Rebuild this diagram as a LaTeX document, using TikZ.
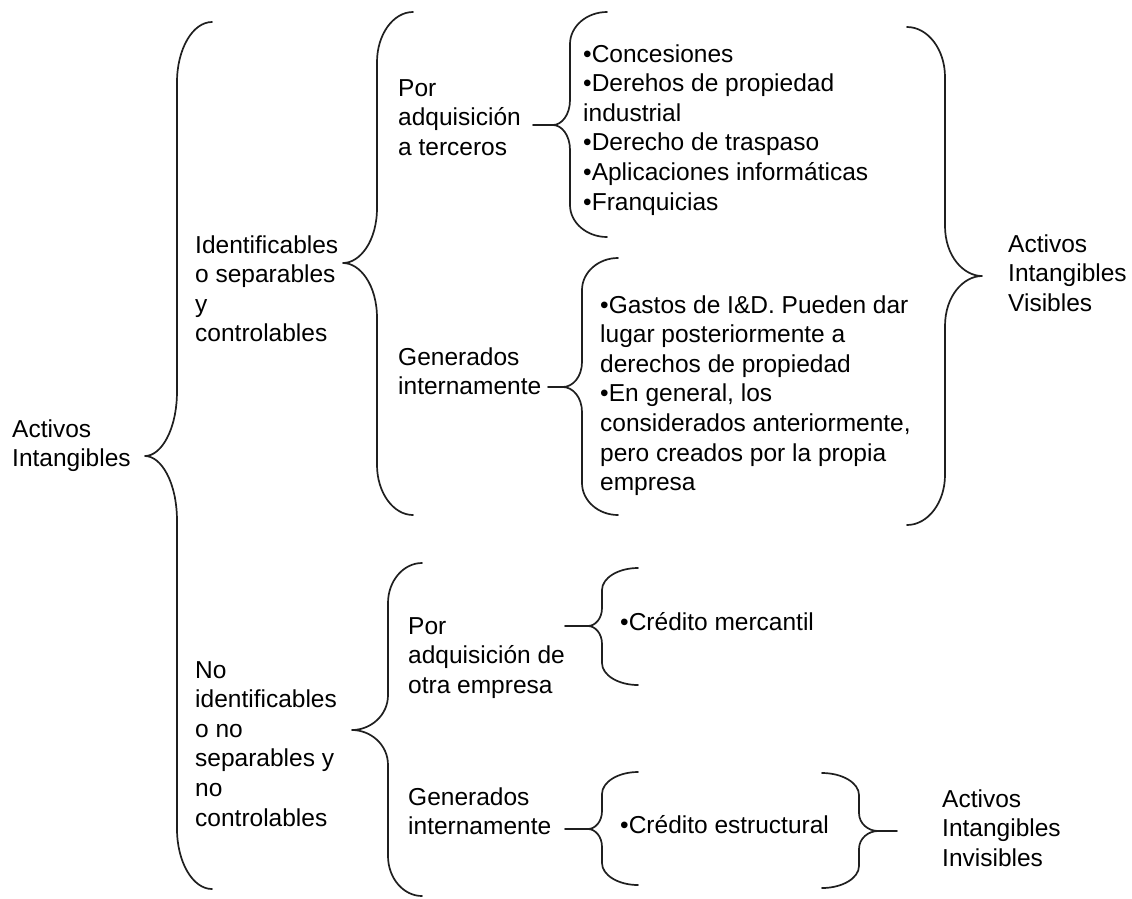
\documentclass[tikz,border=0pt]{standalone}
\usepackage{fontspec}
\setmainfont{Liberation Sans}

% Curly brace: #1 stem x, #2 top y, #3 bottom y, #4 tip x, #5 tip y,
% #6 end x, #7 height of the end curls, #8 height of the curves into the tip
\newcommand{\curlybrace}[8]{%
  \draw[brc] (#6,#2) .. controls ({#1+0.45*(#6-#1)},#2) and (#1,{#2+0.45*#7}) .. (#1,{#2+#7})
    -- (#1,{#5-#8}) .. controls (#1,{#5-0.4*#8}) and ({#4+0.5*(#1-#4)},#5) .. (#4,#5)
    .. controls ({#4+0.5*(#1-#4)},#5) and (#1,{#5+0.4*#8}) .. (#1,{#5+#8})
    -- (#1,{#3-#7}) .. controls (#1,{#3-0.45*#7}) and ({#1+0.45*(#6-#1)},#3) .. (#6,#3);}

\newcommand{\lns}[1]{\begin{tabular}[t]{@{}l@{}}#1\end{tabular}}

\tikzset{
  brc/.style={draw=black!88, line width=1.7pt, line cap=round, line join=round},
  lbl/.style={anchor=base west, inner sep=0pt, font=\fontsize{24.5}{29.6}\selectfont},
}

\begin{document}
\begin{tikzpicture}[x=1pt,y=-1pt]
\useasboundingbox (0,0) rectangle (1132,898);

% labels
\node[lbl] (ai)   at (12,437)  {\lns{Activos\\Intangibles}};
\node[lbl] (ident) at (195,253) {\lns{Identificables\\o separables\\y\\controlables}};
\node[lbl] (noid) at (195,678) {\lns{No\\identificables\\o no\\separables y\\no\\controlables}};
\node[lbl] (adq)  at (398,96)  {\lns{Por\\adquisición\\a terceros}};
\node[lbl] (gen)  at (398,365) {\lns{Generados\\internamente}};
\node[lbl] (adq2) at (408,634) {\lns{Por\\adquisición de\\otra empresa}};
\node[lbl] (gen2) at (408,805) {\lns{Generados\\internamente}};
\node[lbl] (list1) at (583,62) {\lns{•Concesiones\\•Derehos de propiedad\\industrial\\•Derecho de traspaso\\•Aplicaciones informáticas\\•Franquicias}};
\node[lbl] (list2) at (600,313) {\lns{•Gastos de I\&D. Pueden dar\\lugar posteriormente a\\derechos de propiedad\\•En general, los\\considerados anteriormente,\\pero creados por la propia\\empresa}};
\node[lbl] (merc) at (620,630) {•Crédito mercantil};
\node[lbl] (estr) at (620,833) {•Crédito estructural};
\node[lbl] (vis)  at (1008,252) {\lns{Activos\\Intangibles\\Visibles}};
\node[lbl] (invis) at (942,807) {\lns{Activos\\Intangibles\\Invisibles}};

% braces
\curlybrace{177}{22}{889}{145}{456}{212}{60}{65}
\curlybrace{377}{12}{515}{343}{263}{413}{50}{55}
\curlybrace{570}{12}{237}{553}{125}{607}{32}{25}
\curlybrace{582}{258}{515}{563}{387}{618}{32}{25}
\curlybrace{945}{27}{525}{982}{276}{907}{50}{50}
\curlybrace{388}{563}{896}{352}{730}{422}{40}{35}
\curlybrace{602}{568}{685}{588}{626}{638}{22}{18}
\curlybrace{602}{772}{885}{588}{829}{638}{22}{18}
\curlybrace{859}{773}{888}{878}{831}{822}{22}{18}

% short leads at the brace tips
\coordinate (l1) at (533,125);
\coordinate (l2) at (548,387);
\coordinate (l3) at (565,626);
\coordinate (l4) at (565,829);
\coordinate (l5) at (897,831);
\draw[brc] (l1) -- (553,125);
\draw[brc] (l2) -- (563,387);
\draw[brc] (l3) -- (588,626);
\draw[brc] (l4) -- (588,829);
\draw[brc] (878,831) -- (l5);
\end{tikzpicture}
\end{document}
